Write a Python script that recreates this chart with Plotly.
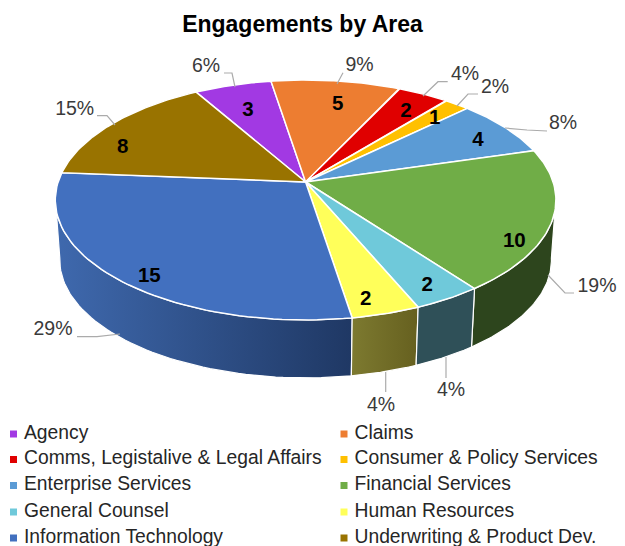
import math
import plotly.graph_objects as go

# ---- data ----
categories = ["Agency", "Claims", "Comms, Legistalive & Legal Affairs", "Consumer & Policy Services",
              "Enterprise Services", "Financial Services", "General Counsel", "Human Resources",
              "Information Technology", "Underwriting & Product Dev."]
values = [3, 5, 2, 1, 4, 10, 2, 2, 15, 8]
percent_labels = ["6%", "9%", "4%", "2%", "8%", "19%", "4%", "4%", "29%", "15%"]
colors = ["#A239E3", "#ED7D31", "#E00000", "#FFC000", "#5B9BD5", "#70AD47", "#6FC9DA", "#FFFF5A", "#4270BF", "#997300"]
wall_left = {5: "#2D451D", 6: "#2F5058", 7: "#7D7A30", 8: "#3F69AE"}
wall_right = {5: "#2D451D", 6: "#2F5058", 7: "#66601F", 8: "#1F3864"}
title = "Engagements by Area"

# ---- projection of the pie disc (pixels of the page) ----
CX, CY, RX, RY, K = 305.6, 182, 247.5, 117.3, 0.15
START = -30.0
DEPTH, SCALE = 58, 0.982
SILHOUETTE = (97.7, 262.3)


def top(theta):
    t = math.radians(theta)
    u, v = math.sin(t), math.cos(t)
    w = 1 + K * v
    return CX + RX * u / w, CY - RY * v / w


def bottom(theta):
    x, y = top(theta)
    return CX + (x - CX) * SCALE, CY + (y - CY) * SCALE + DEPTH + 2.4


def arc(fn, a, b, n=60):
    pts = [fn(a + (b - a) * i / n) for i in range(n + 1)]
    return [p[0] for p in pts], [p[1] for p in pts]


total = sum(values)
edges = [START]
for val in values:
    edges.append(edges[-1] + val / total * 360)

fig = go.Figure()

# side walls
for i in [8, 5, 7, 6]:
    a, b = max(edges[i], SILHOUETTE[0]), min(edges[i + 1], SILHOUETTE[1])
    xt, yt = arc(top, a, b)
    xb, yb = arc(bottom, b, a)
    fig.add_trace(go.Scatter(
        x=xt + xb + xt[:1], y=yt + yb + yt[:1], mode="lines", fill="toself",
        line=dict(color="#FFFFFF", width=1.2),
        fillgradient=dict(type="horizontal", colorscale=[[0, wall_left[i]], [1, wall_right[i]]]),
        hoverinfo="skip", showlegend=False))

# top slices
for i, cat in enumerate(categories):
    xs, ys = arc(top, edges[i], edges[i + 1])
    fig.add_trace(go.Scatter(
        x=[CX] + xs + [CX], y=[CY] + ys + [CY], mode="lines", fill="toself",
        fillcolor=colors[i], line=dict(color="#FFFFFF", width=1.5),
        name=cat, text=f"{cat}: {values[i]}", hoverinfo="text", showlegend=False))

# leader lines, in the order of categories
leaders = [
    [(224, 73), (232, 73), (235, 87)],
    [(343, 72.7), (337, 84)],
    [(447.7, 81.7), (438, 81.7), (423, 96)],
    [(478, 94), (468, 94), (457, 106)],
    [(547, 131), (527, 130), (505, 128)],
    [(574, 293), (565, 293), (548, 275)],
    [(446, 378), (446, 357)],
    [(385.7, 392), (385.7, 372)],
    [(77, 336.7), (97, 336.7), (120, 334)],
    [(97, 115.7), (107, 115.7), (115, 125)],
]
lx, ly = [], []
for seg in leaders:
    lx += [p[0] for p in seg] + [None]
    ly += [p[1] for p in seg] + [None]
fig.add_trace(go.Scatter(x=lx, y=ly, mode="lines", line=dict(color="#ABABAB", width=1.2),
                         hoverinfo="skip", showlegend=False))

# percentage labels
pct_pos = [(206, 67), (359.5, 66), (465, 75), (495, 87.7), (563, 124), (597, 287),
           (451, 391), (381, 406), (53, 330), (74.7, 109.7)]
fig.add_trace(go.Scatter(x=[p[0] for p in pct_pos], y=[p[1] for p in pct_pos], mode="text",
                         text=percent_labels, textposition="middle center",
                         textfont=dict(family="Liberation Sans", size=19.5, color="#3A3A3A"),
                         hoverinfo="skip", showlegend=False))

# value labels
val_pos = [(248, 111), (337.7, 105.3), (406, 112), (434.7, 118.7), (478, 141), (514.3, 241.7),
           (427.3, 286), (365.7, 300), (149.3, 277), (122.7, 147.7)]
fig.add_trace(go.Scatter(x=[p[0] for p in val_pos], y=[p[1] for p in val_pos], mode="text",
                         text=[f"<b>{v}</b>" for v in values], textposition="middle center",
                         textfont=dict(family="Liberation Sans", size=20.5, color="#000000"),
                         hoverinfo="skip", showlegend=False))

# two-column key
COLS = (13.5, 344)
ROWS = (434, 459.5, 485.5, 512, 538)
kx = [COLS[i % 2] for i in range(len(categories))]
ky = [ROWS[i // 2] for i in range(len(categories))]
fig.add_trace(go.Scatter(x=kx, y=ky, mode="markers",
                         marker=dict(symbol="square", size=7, color=colors, line=dict(width=0)),
                         hoverinfo="skip", showlegend=False))
fig.add_trace(go.Scatter(x=[v + 10.5 for v in kx], y=ky, mode="text", text=categories,
                         textposition="middle right",
                         textfont=dict(family="Liberation Sans", size=19.3, color="#262626"),
                         hoverinfo="skip", showlegend=False))

fig.update_layout(
    width=625, height=546, margin=dict(l=0, r=0, t=0, b=0),
    paper_bgcolor="#FFFFFF", plot_bgcolor="#FFFFFF",
    title=dict(text=f"<b>{title}</b>", x=302.5 / 625, xanchor="center", xref="paper",
               y=1 - 24 / 546, yanchor="middle", yref="paper",
               font=dict(family="Liberation Sans", size=23, color="#000000")),
    xaxis=dict(range=[0, 625], visible=False, fixedrange=True),
    yaxis=dict(range=[546, 0], visible=False, fixedrange=True),
    showlegend=False,
)
fig.write_html("out.html", config={"displayModeBar": False},
               post_script="document.body.style.margin='0';document.body.style.overflow='hidden';")
